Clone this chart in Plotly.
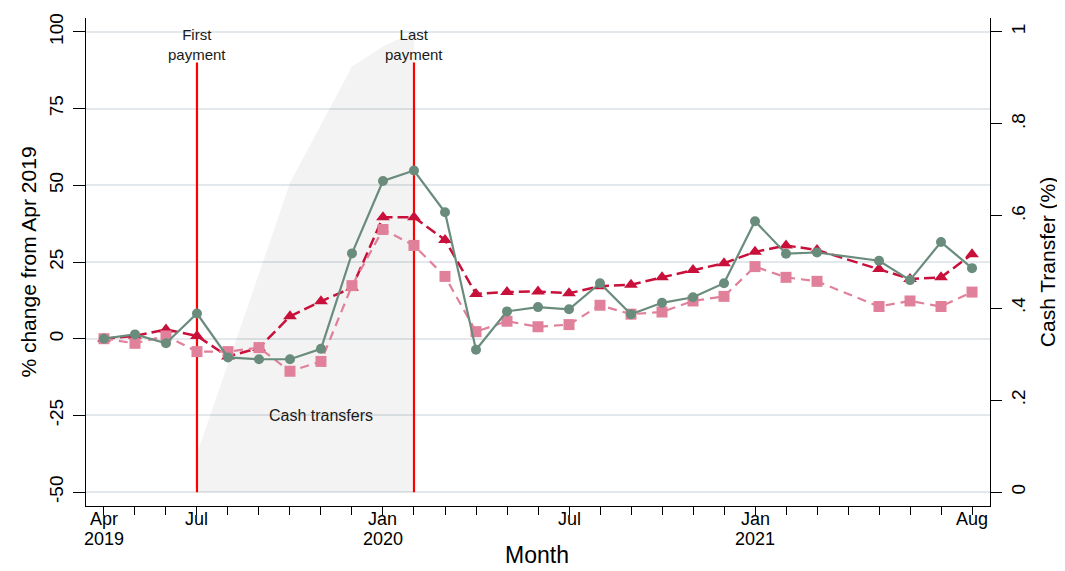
import plotly.graph_objects as go

# ---------------- data ----------------
months = ["2019-04", "2019-05", "2019-06", "2019-07", "2019-08", "2019-09", "2019-10",
          "2019-11", "2019-12", "2020-01", "2020-02", "2020-03", "2020-04", "2020-05",
          "2020-06", "2020-07", "2020-08", "2020-09", "2020-10", "2020-11", "2020-12",
          "2021-01", "2021-02", "2021-03", "2021-05", "2021-06", "2021-07", "2021-08"]

series_green = [0.0, 1.4, -1.5, 8.2, -6.1, -6.7, -6.7, -3.3, 27.8, 51.4, 54.8, 41.2, -3.6, 8.9,
                10.3, 9.6, 18.1, 8.0, 11.7, 13.5, 18.1, 38.3, 27.7, 28.1, 25.4, 19.1, 31.5, 23.0]
series_red = [0.0, 0.9, 3.0, 0.9, -5.8, -3.0, 7.3, 12.2, 16.6, 39.6, 39.6, 32.2, 14.6, 15.2,
              15.4, 14.8, 17.1, 17.6, 20.0, 22.4, 24.6, 28.3, 30.4, 28.9, 22.7, 19.5, 20.0, 27.5]
series_pink = [0.0, -1.5, 0.9, -4.2, -4.2, -2.9, -10.6, -7.4, 17.3, 35.6, 30.4, 20.3, 2.3, 5.7,
               3.9, 4.6, 10.9, 8.0, 8.7, 12.3, 13.8, 23.5, 20.0, 18.7, 10.5, 12.3, 10.5, 15.2]

cash_months = ["2019-07", "2019-08", "2019-09", "2019-10", "2019-11", "2019-12", "2020-01", "2020-02"]
cash_share = [0.084, 0.278, 0.475, 0.672, 0.80, 0.925, 0.968, 1.0]

tick_months = ["2019-04", "2019-05", "2019-06", "2019-07", "2019-08", "2019-09", "2019-10",
               "2019-11", "2019-12", "2020-01", "2020-02", "2020-03", "2020-04", "2020-05",
               "2020-06", "2020-07", "2020-08", "2020-09", "2020-10", "2020-11", "2020-12",
               "2021-01", "2021-02", "2021-03", "2021-04", "2021-05", "2021-06", "2021-07", "2021-08"]
month_labels = {"2019-04": "Apr", "2019-07": "Jul", "2020-01": "Jan", "2020-07": "Jul",
                "2021-01": "Jan", "2021-08": "Aug"}
year_labels = {"2019-04": "2019", "2020-01": "2020", "2021-01": "2021"}

event_labels = ["First<br>payment", "Last<br>payment"]
event_months = ["2019-07", "2020-02"]
event_span = [-50, 90]

left_ticks = [-50, -25, 0, 25, 50, 75, 100]
left_ticktext = ["-50", "-25", "0", "25", "50", "75", "100"]
right_ticks = [0, 0.2, 0.4, 0.6, 0.8, 1.0]
right_ticktext = ["0", ".2", ".4", ".6", ".8", "1"]


def midx(s):
    y, m = map(int, s.split("-"))
    return (y - 2019) * 12 + m - 4


FONT = "Liberation Sans, Arial, Helvetica, sans-serif"
GREEN = "#6a8c7d"
RED = "#c8103a"
PINK = "#e0809a"

fig = go.Figure()

# Cash transfer share (right axis) drawn first so it sits underneath
fig.add_trace(go.Scatter(
    x=[midx(m) for m in cash_months], y=cash_share, yaxis="y", mode="lines",
    line=dict(width=0), fill="tozeroy", fillcolor="rgba(0,0,0,0.047)",
    hoverinfo="skip", showlegend=False))

# payment event lines
for m in event_months:
    fig.add_trace(go.Scatter(
        x=[midx(m), midx(m)], y=event_span, yaxis="y2", mode="lines",
        line=dict(color="#ff0000", width=2.2), showlegend=False, hoverinfo="skip"))

x = [midx(m) for m in months]
fig.add_trace(go.Scatter(x=x, y=series_red, yaxis="y2", mode="lines+markers",
                         line=dict(color=RED, width=2.5, dash="11px,5px"),
                         marker=dict(symbol="triangle-up", size=12, color=RED), showlegend=False))
fig.add_trace(go.Scatter(x=x, y=series_pink, yaxis="y2", mode="lines+markers",
                         line=dict(color=PINK, width=2.2, dash="9px,6px"),
                         marker=dict(symbol="square", size=11, color=PINK), showlegend=False))
fig.add_trace(go.Scatter(x=x, y=series_green, yaxis="y2", mode="lines+markers",
                         line=dict(color=GREEN, width=2.2),
                         marker=dict(symbol="circle", size=10, color=GREEN), showlegend=False))

annotations = []
for lab, m in zip(event_labels, event_months):
    annotations.append(dict(x=midx(m), y=event_span[1], xref="x", yref="y2", text=lab,
                            showarrow=False, yanchor="bottom", yshift=-2,
                            font=dict(family=FONT, size=15, color="#1a1a1a")))
annotations.append(dict(x=midx("2019-11"), y=-25, xref="x", yref="y2", text="Cash transfers",
                        showarrow=False, font=dict(family=FONT, size=16, color="#1a1a1a")))
for m, ml in month_labels.items():
    annotations.append(dict(x=midx(m), y=0, xref="x", yref="paper", text=ml, showarrow=False,
                            yanchor="top", yshift=-2, borderpad=0,
                            font=dict(family=FONT, size=18, color="black")))
for m, yl in year_labels.items():
    annotations.append(dict(x=midx(m), y=0, xref="x", yref="paper", text=yl, showarrow=False,
                            yanchor="top", yshift=-21.5, borderpad=0,
                            font=dict(family=FONT, size=18, color="black")))
annotations.append(dict(x=0.499, y=0, xref="paper", yref="paper", text="Month", showarrow=False,
                        yanchor="top", yshift=-35, borderpad=0,
                        font=dict(family=FONT, size=23, color="black")))

fig.update_layout(
    width=1057, height=563, autosize=False,
    margin=dict(l=78, r=75, t=5, b=65),
    paper_bgcolor="white", plot_bgcolor="white",
    showlegend=False,
    font=dict(family=FONT, color="black"),
    xaxis=dict(range=[-0.58, 28.58], tickvals=[midx(m) for m in tick_months],
               ticktext=["" for m in tick_months],
               ticks="outside", ticklen=8, tickwidth=1.3, tickcolor="black",
               showline=True, linecolor="black", linewidth=1.3, showgrid=False, zeroline=False),
    yaxis=dict(side="right", range=[-0.0301, 1.0301], tickvals=right_ticks, ticktext=right_ticktext,
               ticks="outside", ticklen=11, tickwidth=1.3, tickcolor="black",
               showline=True, linecolor="black", linewidth=1.3, showgrid=False, zeroline=False,
               tickangle=-90, tickfont=dict(size=19, family=FONT, color="black"),
               title=dict(text="Cash Transfer (%)", font=dict(size=21, family=FONT, color="black"),
                          standoff=12)),
    yaxis2=dict(overlaying="y", side="left", range=[-54.52, 104.52], tickvals=left_ticks,
                ticktext=left_ticktext, ticklabelstandoff=2,
                ticks="outside", ticklen=12, tickwidth=1.3, tickcolor="black",
                showline=True, linecolor="black", linewidth=1.3,
                showgrid=True, gridcolor="#e2e8eb", gridwidth=1.6, zeroline=False,
                tickangle=-90, tickfont=dict(size=19, family=FONT, color="black"),
                title=dict(text="% change from Apr 2019", font=dict(size=21, family=FONT, color="black"),
                           standoff=3)),
    annotations=annotations,
)

fig.write_html("out.html")
